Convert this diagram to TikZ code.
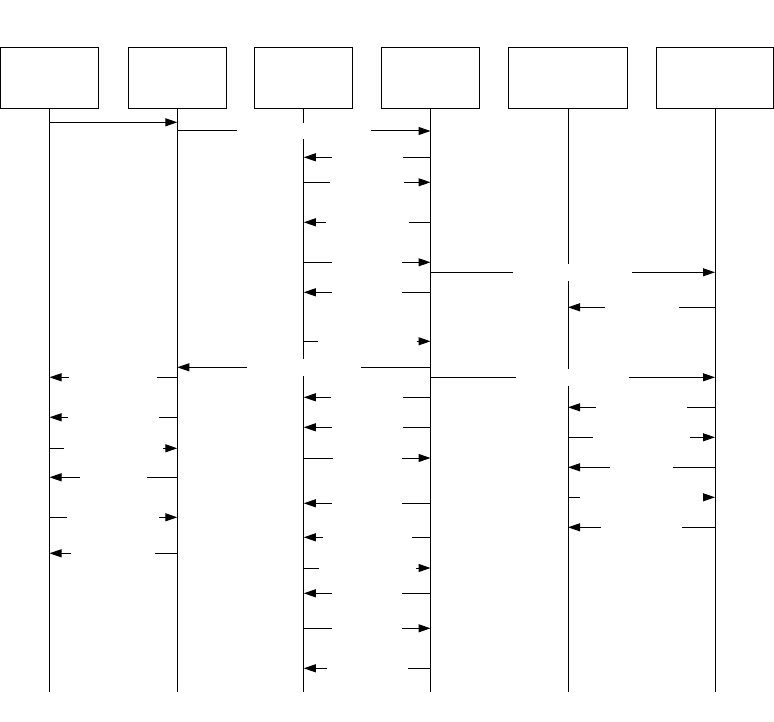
\documentclass[tikz,border=0pt]{standalone}
\usetikzlibrary{arrows.meta}
\begin{document}
\begin{tikzpicture}[x=1pt,y=-1pt,
  actor/.style={draw,line width=1pt,minimum height=61pt,inner sep=0pt},
  life/.style={line width=1pt},
  msgline/.style={line width=1pt,-{Triangle[length=12pt,width=8pt]}},
  gapbox/.style={fill=white,draw=none,inner sep=0pt,minimum height=16.6pt,pos=0.5}]
\useasboundingbox (0,0) rectangle (774,722);
% actors
\node[actor,minimum width=97.5pt] (b1) at (49.5,77.8) {};
\node[actor,minimum width=98pt]   (b2) at (177.3,77.8) {};
\node[actor,minimum width=98pt]   (b3) at (303.8,77.8) {};
\node[actor,minimum width=97.4pt] (b4) at (430.5,77.8) {};
\node[actor,minimum width=119pt]  (b5) at (568,77.8) {};
\node[actor,minimum width=117pt]  (b6) at (715,77.8) {};
% lifelines
\foreach \i in {1,...,6}{
  \coordinate (e\i) at (b\i |- 0,692.3);
  \draw[life] (b\i.south) -- (e\i);
}
\newcommand\msg[4]{\draw[msgline] (#1 |- 0,#3) -- node[gapbox,minimum width=#4 pt] {} (#2 |- 0,#3);}
% messages
\draw[msgline] (b1 |- 0,122.3) -- (b2 |- 0,122.3);
\msg{b2}{b4}{131}{134.3}
\msg{b4}{b3}{157.3}{71}
\msg{b3}{b4}{182.3}{73.7}
\msg{b4}{b3}{222.3}{83.3}
\msg{b3}{b4}{262.3}{70}
\msg{b4}{b6}{272.3}{119.3}
\msg{b4}{b3}{292.3}{69.7}
\msg{b6}{b5}{307.3}{74}
\msg{b3}{b4}{341.3}{99}
\msg{b4}{b2}{367.3}{113.3}
\msg{b4}{b6}{377.3}{113}
\msg{b2}{b1}{377.3}{88}
\msg{b4}{b3}{397.3}{72}
\msg{b6}{b5}{407.3}{90.3}
\msg{b2}{b1}{417.3}{90.3}
\msg{b4}{b3}{427.3}{71}
\msg{b5}{b6}{437.3}{97.3}
\msg{b1}{b2}{448.3}{99.3}
\msg{b3}{b4}{458}{69}
\msg{b6}{b5}{467.3}{62.3}
\msg{b2}{b1}{477.3}{67}
\msg{b5}{b6}{497.3}{123}
\msg{b4}{b3}{503.3}{70}
\msg{b1}{b2}{517.3}{92}
\msg{b6}{b5}{527.3}{81}
\msg{b4}{b3}{537.3}{89}
\msg{b2}{b1}{553.3}{84}
\msg{b3}{b4}{568}{97}
\msg{b4}{b3}{593.3}{69.6}
\msg{b3}{b4}{628.3}{70}
\msg{b4}{b3}{668.3}{81.3}
\end{tikzpicture}
\end{document}
